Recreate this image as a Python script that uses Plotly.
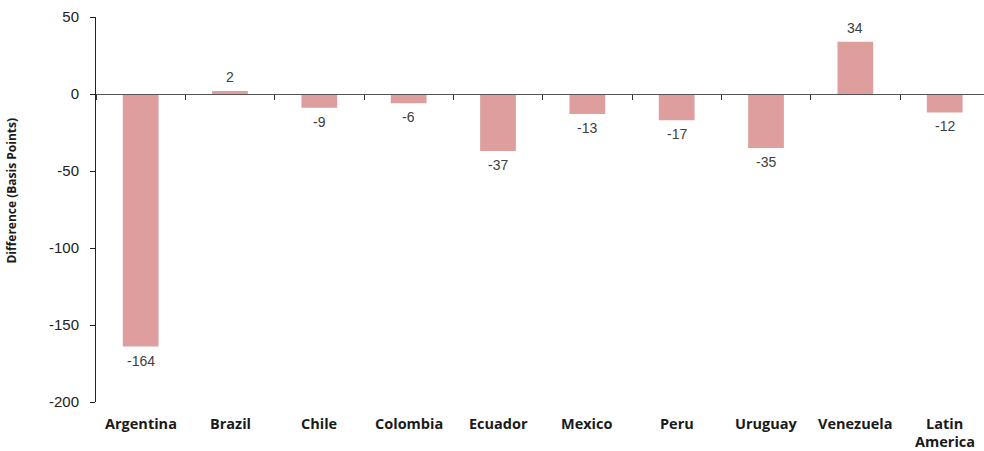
import plotly.graph_objects as go

# Change in spread by country, basis points
countries = ["Argentina", "Brazil", "Chile", "Colombia", "Ecuador",
             "Mexico", "Peru", "Uruguay", "Venezuela", "Latin<br>America"]
difference = [-164, 2, -9, -6, -37, -13, -17, -35, 34, -12]
y_ticks = [50, 0, -50, -100, -150, -200]
y_tick_text = ["50", "0", "-50", "-100", "-150", "-200"]

fig = go.Figure()
fig.add_trace(go.Bar(
    x=countries, y=difference, width=0.4,
    marker=dict(color="#DE9E9E", line=dict(width=0)),
    hoverinfo="skip",
))

# Value labels just beyond the end of each bar
for c, v in zip(countries, difference):
    fig.add_annotation(
        x=c, y=v, xref="x", yref="y", yanchor="middle",
        yshift=14 if v >= 0 else -14,
        text=str(v), showarrow=False,
        font=dict(family="Liberation Sans, Arial", size=14, color="#404040"),
    )

# Category names along the bottom of the plot, one annotation per line
for c in countries:
    for i, line in enumerate(c.split("<br>")):
        fig.add_annotation(
            x=c, y=0, xref="x", yref="paper", yanchor="middle",
            yshift=-21 - 18.5 * i, borderpad=0,
            text="<b>" + line + "</b>", showarrow=False,
            font=dict(family="Open Sans", size=14.5, color="#1a1a1a"),
        )

# Vertical axis title
fig.add_annotation(
    x=0, y=0.548, xref="paper", yref="paper", xanchor="right", yanchor="middle",
    xshift=-74, textangle=-90, showarrow=False,
    text="<b>Difference (Basis Points)</b>",
    font=dict(family="Open Sans", size=12, color="#1a1a1a"),
)

fig.update_layout(
    width=984, height=451,
    margin=dict(l=96, r=0, t=17, b=49),
    plot_bgcolor="white", paper_bgcolor="white",
    showlegend=False,
    xaxis=dict(
        type="category", range=[-0.5, 9.44],
        anchor="free", position=0.8,
        showline=True, linecolor="#555555", linewidth=1,
        ticks="outside", tickson="boundaries", ticklen=5,
        tickcolor="#333333", showticklabels=False, showgrid=False,
        zeroline=False,
    ),
    yaxis=dict(
        range=[-200, 50], tickvals=y_ticks, ticktext=y_tick_text,
        showline=True, linecolor="#222222", linewidth=1,
        ticks="outside", ticklen=5, tickcolor="#222222",
        ticklabelstandoff=8,
        showgrid=False, zeroline=False,
        tickfont=dict(family="Liberation Sans, Arial", size=15, color="#222222"),
    ),
)

fig.write_html("out.html")
